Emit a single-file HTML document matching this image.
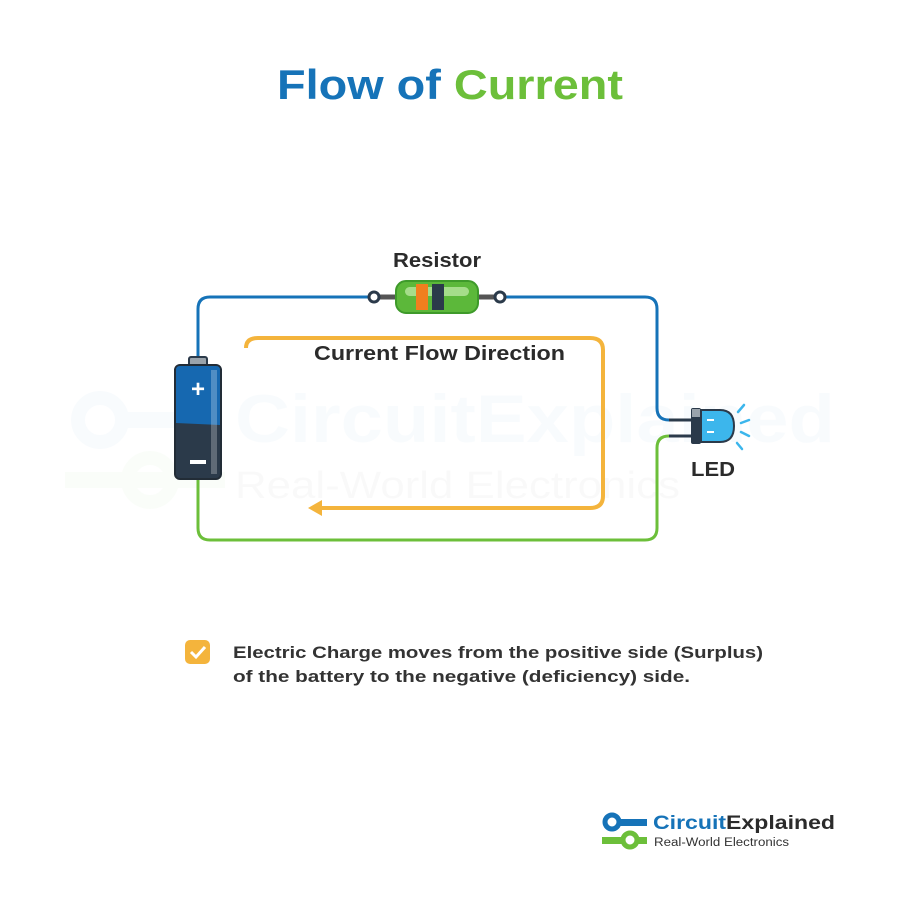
<!DOCTYPE html>
<html><head><meta charset="utf-8"><style>
body{margin:0;background:#fff;}
svg text{font-family:"Liberation Sans",sans-serif;}
</style></head><body>
<svg width="900" height="900" viewBox="0 0 900 900" xmlns="http://www.w3.org/2000/svg">
<rect width="900" height="900" fill="#fff"/>
<!-- watermark -->
<g opacity="0.025">
<circle cx="100" cy="420" r="22" fill="none" stroke="#1673b8" stroke-width="14"/>
<rect x="120" y="412" width="100" height="16" fill="#1673b8"/>
<text x="235" y="442" font-size="68" font-weight="bold" fill="#1673b8" textLength="600" lengthAdjust="spacingAndGlyphs">CircuitExplained</text>
<text x="235" y="498" font-size="38" fill="#333" textLength="445" lengthAdjust="spacingAndGlyphs">Real-World Electronics</text>
<circle cx="150" cy="480" r="22" fill="none" stroke="#6cbf3a" stroke-width="14"/>
<rect x="65" y="472" width="160" height="16" fill="#6cbf3a"/>
</g>
<text x="277" y="99" font-size="42" font-weight="bold" textLength="346" lengthAdjust="spacingAndGlyphs"><tspan fill="#1673b8">Flow of </tspan><tspan fill="#6cbf3a">Current</tspan></text>
<!-- wires -->
<path d="M198 360 V309 Q198 297 210 297 H375" fill="none" stroke="#1673b8" stroke-width="3"/>
<path d="M500 297 H645 Q657 297 657 309 V408 Q657 420 669 420 H692" fill="none" stroke="#1673b8" stroke-width="3"/>
<path d="M198 478 V528 Q198 540 210 540 H645 Q657 540 657 528 V448 Q657 436 669 436 H692" fill="none" stroke="#6cbf3a" stroke-width="3"/>
<line x1="669" y1="420" x2="692" y2="420" stroke="#2b3a4a" stroke-width="3"/>
<line x1="669" y1="436" x2="692" y2="436" stroke="#2b3a4a" stroke-width="3"/>
<!-- orange flow -->
<path d="M246 348 Q246 338 258 338 H590 Q603 338 603 350 V496 Q603 508 590 508 H318" fill="none" stroke="#f4b43c" stroke-width="4"/>
<path d="M308 508 L322 500 L322 516 Z" fill="#f4b43c"/>
<text x="314" y="360" font-size="20" font-weight="bold" fill="#2b2b2b" textLength="251" lengthAdjust="spacingAndGlyphs">Current Flow Direction</text>
<!-- resistor -->
<text x="393" y="267" font-size="20" font-weight="bold" fill="#2b2b2b" textLength="88" lengthAdjust="spacingAndGlyphs">Resistor</text>
<path d="M380 297 H400 M476 297 H496" stroke="#555" stroke-width="5"/>
<circle cx="374" cy="297" r="5" fill="#fff" stroke="#2b3a4a" stroke-width="3"/>
<circle cx="500" cy="297" r="5" fill="#fff" stroke="#2b3a4a" stroke-width="3"/>
<rect x="396" y="281" width="82" height="32" rx="10" fill="#5cb83a" stroke="#3e9a2a" stroke-width="2"/>
<rect x="405" y="287" width="64" height="9" rx="4.5" fill="#a5dd8a"/>
<rect x="416" y="284" width="12" height="26" fill="#f07f1e"/>
<rect x="432" y="284" width="12" height="26" fill="#2b3a4a"/>
<!-- battery -->
<rect x="189" y="357" width="18" height="10" rx="2" fill="#9aa3ab" stroke="#2b3a4a" stroke-width="2"/>
<rect x="175" y="365" width="46" height="114" rx="5" fill="#2b3a4a" stroke="#222c36" stroke-width="2"/>
<path d="M176 370 Q176 366 180 366 H216 Q220 366 220 370 V425 L176 423 Z" fill="#1668b0"/>
<rect x="211" y="370" width="6" height="104" fill="#fff" opacity="0.25"/>
<text x="198" y="397" text-anchor="middle" font-size="24" font-weight="bold" fill="#fff">+</text>
<rect x="190" y="460" width="16" height="4" fill="#fff"/>
<!-- LED -->
<rect x="691" y="408" width="10" height="36" rx="2" fill="#2b3a4a"/>
<rect x="692" y="409" width="8" height="8" fill="#9aa3ab"/>
<path d="M701 410 H720 Q734 410 734 426 Q734 442 720 442 H701 Z" fill="#3cb6ec" stroke="#2b3a4a" stroke-width="2"/>
<path d="M707 420 H714 M707 432 H714" stroke="#fff" stroke-width="2"/>
<g stroke="#3cb6ec" stroke-width="2.5" stroke-linecap="round">
<line x1="738" y1="412" x2="744" y2="405"/><line x1="741" y1="423" x2="749" y2="420"/>
<line x1="741" y1="432" x2="749" y2="436"/><line x1="737" y1="443" x2="742" y2="449"/>
</g>
<text x="691" y="476" font-size="20" font-weight="bold" fill="#2b2b2b" textLength="44" lengthAdjust="spacingAndGlyphs">LED</text>
<!-- note -->
<rect x="185" y="640" width="25" height="24" rx="5" fill="#f4b43c"/>
<path d="M191 652 L196 657 L205 647" fill="none" stroke="#fff" stroke-width="3"/>
<text x="233" y="658" font-size="17" font-weight="bold" fill="#333" textLength="530" lengthAdjust="spacingAndGlyphs">Electric Charge moves from the positive side (Surplus)</text>
<text x="233" y="682" font-size="17" font-weight="bold" fill="#333" textLength="457" lengthAdjust="spacingAndGlyphs">of the battery to the negative (deficiency) side.</text>
<!-- logo -->
<circle cx="612" cy="822" r="7" fill="none" stroke="#1673b8" stroke-width="5"/>
<rect x="618" y="819" width="29" height="7" fill="#1673b8"/>
<circle cx="630" cy="840" r="7" fill="none" stroke="#6cbf3a" stroke-width="5"/>
<rect x="602" y="837" width="22" height="7" fill="#6cbf3a"/><rect x="636" y="837" width="11" height="7" fill="#6cbf3a"/>
<text x="653" y="829" font-size="19" font-weight="bold" textLength="182" lengthAdjust="spacingAndGlyphs"><tspan fill="#1673b8">Circuit</tspan><tspan fill="#2b2b2b">Explained</tspan></text>
<text x="654" y="846" font-size="11.5" fill="#333" textLength="135" lengthAdjust="spacingAndGlyphs">Real-World Electronics</text>
</svg>
</body></html>
